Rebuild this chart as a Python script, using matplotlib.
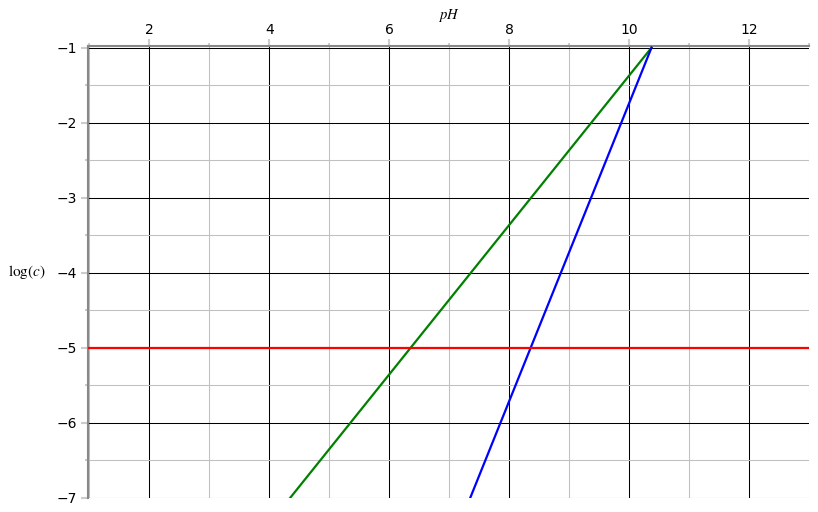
import matplotlib
matplotlib.use("Agg")
import matplotlib.pyplot as plt
from matplotlib.ticker import MultipleLocator

plt.rcParams['mathtext.fontset'] = 'stix'

# Data
green_ph = [4.35, 10.37]
green_logc = [-7.0, -1.0]
blue_ph = [7.35, 10.37]
blue_logc = [-7.0, -1.0]
red_ph = [1.0, 13.0]
red_logc = [-5.0, -5.0]

x_min, x_max = 1, 13
y_min, y_max = -7, -1

fig = plt.figure(figsize=(8.18, 5.12), dpi=100)
ax = fig.add_axes([87.8 / 818, (512 - 497.7) / 512, (809.3 - 87.8) / 818, (497.7 - 46) / 512])

ax.set_xlim(x_min - 1.5 / 60, x_max)
ax.set_ylim(y_min, y_max + 1.7 / 75)

ax.xaxis.set_major_locator(MultipleLocator(2))
ax.xaxis.set_minor_locator(MultipleLocator(1))
ax.yaxis.set_major_locator(MultipleLocator(1))
ax.yaxis.set_minor_locator(MultipleLocator(0.5))

ax.grid(which='minor', color='#c0c0c0', linewidth=0.75)
ax.grid(which='major', color='black', linewidth=0.75)
ax.set_axisbelow(True)

ax.plot(green_ph, green_logc, color='#008000', linewidth=1.6, clip_on=True, zorder=3)
ax.plot(blue_ph, blue_logc, color='#0000ff', linewidth=1.6, clip_on=True, zorder=3)
ax.plot(red_ph, red_logc, color='#ff0000', linewidth=1.6, clip_on=True, zorder=3)

for s in ['right', 'bottom']:
    ax.spines[s].set_visible(False)
for s in ['left', 'top']:
    ax.spines[s].set_color('#888888')
    ax.spines[s].set_linewidth(1.5)

ax.xaxis.tick_top()
ax.tick_params(axis='both', which='major', length=5, width=1.5, color='#cccccc',
               labelsize=10, direction='out')
ax.tick_params(axis='x', which='major', pad=1.5)
ax.tick_params(axis='y', which='major', pad=3)
ax.tick_params(axis='both', which='minor', length=2.5, width=1.5, color='#cccccc',
               direction='out')
ax.set_xticks([2, 4, 6, 8, 10, 12])
ax.set_xticklabels(['2', '4', '6', '8', '10', '12'])
ax.set_yticks([-1, -2, -3, -4, -5, -6, -7])
ax.set_yticklabels(['\u22121', '\u22122', '\u22123', '\u22124', '\u22125', '\u22126', '\u22127'])

fig.text(449 / 818, 1 - 15 / 512, r'$pH$', ha='center', va='center', fontsize=10.5)
fig.text(8 / 818, 1 - 272 / 512, r'$\mathrm{log}(c)$', ha='left', va='center', fontsize=11)

fig.savefig('out.png', dpi=100)
